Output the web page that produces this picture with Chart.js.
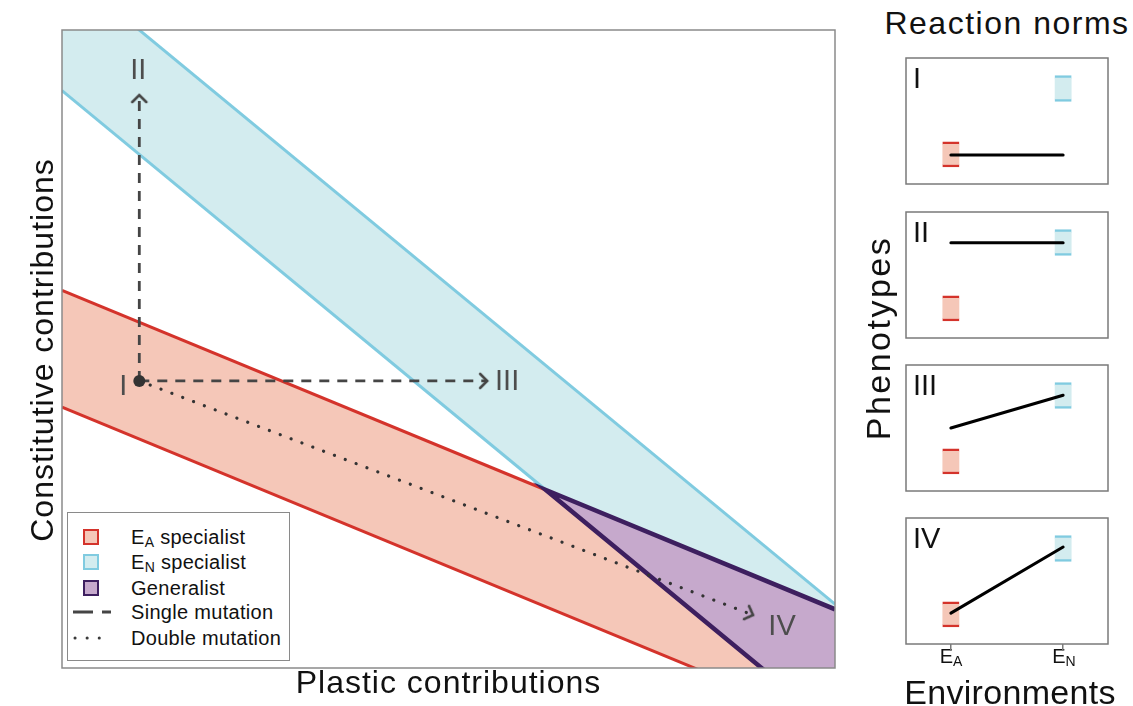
<!DOCTYPE html>
<html>
<head>
<meta charset="utf-8">
<script src="https://cdn.jsdelivr.net/npm/chart.js@4"></script>
<style>
  body { margin: 0; background: #fff; }
  #fig { position: relative; width: 1133px; height: 706px; overflow: hidden;
         font-family: "Liberation Sans", Arial, sans-serif; color: #111; }
  #fig canvas { position: absolute; }
  .lbl { position: absolute; white-space: nowrap; line-height: 1; text-align: center; }
  .rot { transform: rotate(-90deg); }
  .lbl sub { font-size: 14px; vertical-align: -3px; line-height: 0; }
  #legend { position: absolute; left: 67px; top: 512px; width: 221px; height: 147px;
            border: 1.5px solid #8a8a8a; background: #fff; font-size: 20px; }
  #legend .row { position: absolute; left: 0; height: 20px; width: 100%; line-height: 20px; }
  #legend .sw { position: absolute; left: 15px; top: 2px; width: 12px; height: 12px; border: 2.5px solid; }
  #legend svg { position: absolute; left: 5px; top: 7px; }
  #legend .tx { position: absolute; left: 63px; top: 0; white-space: nowrap; letter-spacing: 0.3px; }
  #legend sub { font-size: 14px; vertical-align: -3px; line-height: 0; }
</style>
</head>
<body>
<div id="fig">
  <canvas id="space" width="860" height="706" style="left:0;top:0"></canvas>

  <div id="legend">
    <div class="row" style="top:14px"><span class="sw" style="border-color:#d4332b;background:#f5c7b8"></span><span class="tx">E<sub>A</sub> specialist</span></div>
    <div class="row" style="top:39px"><span class="sw" style="border-color:#80cbe0;background:#d3ecef"></span><span class="tx">E<sub>N</sub> specialist</span></div>
    <div class="row" style="top:65px"><span class="sw" style="border-color:#3d1f5f;background:#c6a9cc"></span><span class="tx">Generalist</span></div>
    <div class="row" style="top:89px"><svg width="40" height="6"><line x1="0" y1="3" x2="38" y2="3" stroke="#454545" stroke-width="3" stroke-dasharray="20 9"/></svg><span class="tx">Single mutation</span></div>
    <div class="row" style="top:115px"><svg width="40" height="6"><line x1="2" y1="3" x2="38" y2="3" stroke="#3a3a3a" stroke-width="3" stroke-linecap="round" stroke-dasharray="0.1 12"/></svg><span class="tx">Double mutation</span></div>
  </div>

  <div class="lbl" style="left:62px;top:666px;width:773px;font-size:32px;letter-spacing:1px">Plastic contributions</div>
  <div class="lbl rot" style="left:-158px;top:334px;width:400px;font-size:32px;letter-spacing:1px">Constitutive contributions</div>

  <div class="lbl" style="left:877px;top:7px;width:260px;font-size:32px;letter-spacing:1.5px">Reaction norms</div>
  <div class="lbl rot" style="left:748px;top:321px;width:260px;font-size:34px;letter-spacing:2.5px">Phenotypes</div>
  <div class="lbl" style="left:890px;top:675px;width:240px;font-size:34px;letter-spacing:0.3px">Environments</div>
  <div class="lbl" style="left:931px;top:646px;width:40px;font-size:20px">E<sub>A</sub></div>
  <div class="lbl" style="left:1044px;top:646px;width:40px;font-size:20px">E<sub>N</sub></div>
</div>

<script>
// ---- genotype space (left panel), both axes 0..10 ----
// fitness bands are straight edges, given by their height at x = 0 and x = 10
const edgeX = [0, 10];
const eaUpper = [5.92, 0.92];   // E_A specialist band
const eaLower = [4.09, -0.91];
const enUpper = [11, 1];        // E_N specialist band
const enLower = [9.05, -0.95];

// genotypes: ancestor I and the three mutants
const genotypes = ['I', 'II', 'III', 'IV'];
const plastic = [1.0, 1.0, 5.5, 8.94];
const constitutive = [4.5, 8.98, 4.5, 0.83];

// ---- reaction norms (right panels), phenotype axis 0..10 ----
const envX = [0, 1];            // E_A, E_N
const eaRange = [1.35, 3.35];
const enRange = [6.55, 8.6];
const normEA = [2.3, 7.55, 5.0, 2.45];
const normEN = [2.3, 7.55, 7.6, 7.7];

const RED = '#d4332b', RED_FILL = '#f5c7b8';
const BLUE = '#80cbe0', BLUE_FILL = '#d3ecef';
const PURPLE = '#3d1f5f', PURPLE_FILL = '#c6a9cc';
const INK = '#454545';
const FONT = '"Liberation Sans", Arial, sans-serif';

const pts = ys => edgeX.map((x, i) => ({x, y: ys[i]}));
const at = (ys, x) => ys[0] + (ys[1] - ys[0]) * (x - edgeX[0]) / (edgeX[1] - edgeX[0]);
function meet(a, b) {
  const w = edgeX[1] - edgeX[0];
  const x = edgeX[0] + (b[0] - a[0]) / ((a[1] - a[0]) / w - (b[1] - b[0]) / w);
  return {x, y: at(a, x)};
}
const corner = meet(eaUpper, enLower);
const right = edgeX[1];

const frame = {
  id: 'frame',
  afterDraw(chart, args, opts) {
    const {ctx, chartArea: a} = chart;
    ctx.save();
    ctx.strokeStyle = opts.color;
    ctx.lineWidth = opts.width;
    ctx.strokeRect(a.left, a.top, a.right - a.left, a.bottom - a.top);
    ctx.restore();
  }
};

function chevron() {
  const c = document.createElement('canvas');
  c.width = 22; c.height = 22;
  const g = c.getContext('2d');
  g.strokeStyle = INK; g.lineWidth = 2.6; g.lineCap = 'round';
  g.beginPath(); g.moveTo(4, 4); g.lineTo(11, 11); g.lineTo(4, 18); g.stroke();
  return c;
}
const head = chevron();

function region(data, color, order) {
  return { data: data.concat([data[0]]), showLine: true, fill: 'shape', backgroundColor: color,
           borderColor: 'transparent', borderWidth: 0, pointRadius: 0, order };
}
function edge(data, color, width, order) {
  return { data, showLine: true, fill: false, borderColor: color, borderWidth: width,
           pointRadius: 0, order, clip: 0 };
}
function arrow(i, dash) {
  const dotted = dash[0] < 1;
  return {
    data: [{x: plastic[0], y: constitutive[0]}, {x: plastic[i], y: constitutive[i]}],
    showLine: true, fill: false, borderColor: dotted ? '#333' : INK, borderWidth: dotted ? 3.2 : 2.8,
    borderDash: dash, borderCapStyle: dotted ? 'round' : 'butt',
    pointRadius: c => c.dataIndex === 1 ? 6 : 0, pointStyle: head,
    pointRotation: c => {
      const {x, y} = c.chart.scales;
      const [p, q] = c.dataset.data;
      return Math.atan2(y.getPixelForValue(q.y) - y.getPixelForValue(p.y),
                        x.getPixelForValue(q.x) - x.getPixelForValue(p.x)) * 180 / Math.PI;
    },
    order: 2
  };
}

const labelShift = [[-16, 6], [-1, -24], [20, 1], [29, 12]];
const genotypeLabels = {
  id: 'genotypeLabels',
  afterDatasetsDraw(chart) {
    const {ctx, scales: {x, y}} = chart;
    ctx.save();
    ctx.font = '29px ' + FONT;
    ctx.fillStyle = '#4d4d4d';
    ctx.textAlign = 'center';
    ctx.textBaseline = 'middle';
    genotypes.forEach((g, i) => {
      ctx.fillText(g, x.getPixelForValue(plastic[i]) + labelShift[i][0],
                      y.getPixelForValue(constitutive[i]) + labelShift[i][1]);
    });
    ctx.restore();
  }
};

new Chart(document.getElementById('space'), {
  type: 'scatter',
  data: {
    datasets: [
      region(pts(eaUpper).concat(pts(eaLower).reverse()), RED_FILL, 30),
      region(pts(enUpper).concat(pts(enLower).reverse()), BLUE_FILL, 29),
      region([corner, {x: right, y: eaUpper[1]}, {x: right, y: enLower[1]}], PURPLE_FILL, 28),
      edge(pts(eaLower), RED, 3, 10),
      edge([{x: edgeX[0], y: eaUpper[0]}, corner], RED, 3, 10),
      edge(pts(enUpper), BLUE, 3, 10),
      edge([{x: edgeX[0], y: enLower[0]}, corner], BLUE, 3, 10),
      edge([{x: right, y: eaUpper[1]}, corner, {x: right, y: enLower[1]}], PURPLE, 4.5, 9),
      arrow(1, [10, 8]),
      arrow(2, [10, 8]),
      arrow(3, [0.1, 11.5]),
      { data: [{x: plastic[0], y: constitutive[0]}], pointRadius: 6, pointBackgroundColor: '#333',
        pointBorderWidth: 0, order: 1 }
    ]
  },
  options: {
    responsive: false,
    animation: false,
    events: [],
    layout: { padding: { left: 62, top: 30, right: 25, bottom: 38 } },
    scales: {
      x: { display: false, min: 0, max: 10 },
      y: { display: false, min: 0, max: 10 }
    },
    elements: { line: { tension: 0, borderJoinStyle: 'miter' } },
    plugins: {
      legend: { display: false },
      tooltip: { enabled: false },
      frame: { color: '#8a8a8a', width: 1.5 }
    }
  },
  plugins: [frame, genotypeLabels]
});

// ---- reaction-norm panels ----
const panelTops = [48, 202, 355, 508];
const panelLabel = {
  id: 'panelLabel',
  afterDraw(chart, args, opts) {
    const {ctx, chartArea: a} = chart;
    ctx.save();
    ctx.font = '29px ' + FONT;
    ctx.fillStyle = '#111';
    ctx.textBaseline = 'alphabetic';
    ctx.fillText(opts.text, a.left + 7, a.top + 30);
    ctx.restore();
  }
};

genotypes.forEach((g, i) => {
  const last = i === genotypes.length - 1;
  const cv = document.createElement('canvas');
  cv.width = 222; cv.height = 146;
  cv.style.left = '896px';
  cv.style.top = panelTops[i] + 'px';
  document.getElementById('fig').appendChild(cv);

  const xScale = {
    type: 'linear', min: -0.4, max: 1.4, offset: false, display: last,
    grid: { offset: false, drawOnChartArea: false, drawTicks: true, tickLength: 7,
            color: '#7a7a7a', lineWidth: 1.5 },
    border: { display: false },
    ticks: { display: false }
  };
  if (last) {
    xScale.afterBuildTicks = s => { s.ticks = envX.map(v => ({value: v})); };
    xScale.afterFit = s => { s.height = 10; };
  }

  new Chart(cv, {
    type: 'bar',
    data: {
      datasets: [
        { data: [{x: envX[0], y: eaRange}], backgroundColor: RED_FILL, borderColor: RED,
          borderWidth: {top: 2.5, bottom: 2.5, left: 0, right: 0}, borderSkipped: false,
          barThickness: 17, grouped: false, order: 1 },
        { data: [{x: envX[1], y: enRange}], backgroundColor: BLUE_FILL, borderColor: BLUE,
          borderWidth: {top: 2.5, bottom: 2.5, left: 0, right: 0}, borderSkipped: false,
          barThickness: 17, grouped: false, order: 1 },
        { type: 'line', data: [{x: envX[0], y: normEA[i]}, {x: envX[1], y: normEN[i]}],
          borderColor: '#000', borderWidth: 3, pointRadius: 0, borderCapStyle: 'round', order: 0 }
      ]
    },
    options: {
      responsive: false,
      animation: false,
      events: [],
      layout: { padding: { left: 10, right: 10, top: 10, bottom: last ? 0 : 10 } },
      scales: {
        x: xScale,
        y: { display: false, min: 0, max: 10 }
      },
      plugins: {
        legend: { display: false },
        tooltip: { enabled: false },
        frame: { color: '#7a7a7a', width: 1.5 },
        panelLabel: { text: g }
      }
    },
    plugins: [frame, panelLabel]
  });
});
</script>
</body>
</html>
